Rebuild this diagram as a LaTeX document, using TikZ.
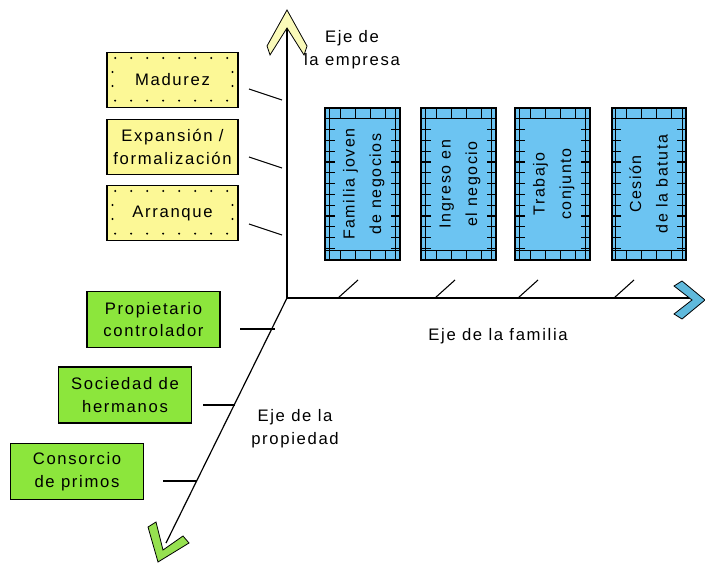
\documentclass[tikz,border=0pt]{standalone}
\usepackage{fontspec}
\setmainfont{Liberation Sans}[LetterSpace=10]
\usepackage{graphicx}
\usepackage{tikz}
\usetikzlibrary{positioning}

\definecolor{amarillo}{RGB}{252,248,150}
\definecolor{azul}{RGB}{108,196,242}
\definecolor{verde}{RGB}{140,230,60}
\definecolor{puntaam}{RGB}{250,250,185}
\definecolor{puntaaz}{RGB}{95,185,220}
\definecolor{puntave}{RGB}{150,225,80}

\newcommand{\vlabel}[1]{\rotatebox{90}{\begin{tabular}{@{}c@{}}#1\end{tabular}}}
\def\ppb{path picture bounding box}

\tikzset{
  texto/.style={font=\fontsize{12.5}{17}\selectfont, align=center},
  etapa/.style={texto, draw, line width=1.1pt, fill=amarillo, minimum width=98pt, minimum height=41pt, inner sep=0pt},
  punteada/.style={path picture={
      \foreach \i in {0,...,7} {
        \fill[black] ([xshift=6pt+\i*12pt, yshift=-4pt]\ppb.north west) circle (0.85pt);
        \fill[black] ([xshift=6pt+\i*12pt, yshift=5pt]\ppb.south west) circle (0.85pt);
      }
      \foreach \j in {1,2} {
        \fill[black] ([xshift=4pt, yshift=-4pt-\j*10.5pt]\ppb.north west) circle (0.85pt);
        \fill[black] ([xshift=-4pt, yshift=-4pt-\j*10.5pt]\ppb.north east) circle (0.85pt);
      }}},
  bloque/.style={font=\fontsize{12}{20}\selectfont, draw=black, line width=1.3pt, fill=azul,
    minimum width=56pt, minimum height=114pt, inner sep=0pt,
    path picture={
      \foreach \k in {1,...,13} {
        \draw[line width=0.8pt] ([yshift=-\k*8.1pt]\ppb.north west) -- ++(7pt,0);
        \draw[line width=0.8pt] ([yshift=-\k*8.1pt]\ppb.north east) -- ++(-7pt,0);
      }
      \foreach \k in {1,...,4} {
        \draw[line width=0.8pt] ([xshift=\k*11.25pt]\ppb.north west) -- ++(0,-8pt);
        \draw[line width=0.8pt] ([xshift=\k*11.25pt]\ppb.south west) -- ++(0,7pt);
      }
      \draw[line width=0.8pt] ([xshift=3pt]\ppb.north west) -- ([xshift=3pt]\ppb.south west);
      \draw[line width=0.8pt] ([xshift=-3pt]\ppb.north east) -- ([xshift=-3pt]\ppb.south east);
      \draw[line width=0.8pt] ([yshift=-8pt]\ppb.north west) -- ([yshift=-8pt]\ppb.north east);
      \draw[line width=0.8pt] ([yshift=7pt]\ppb.south west) -- ([yshift=7pt]\ppb.south east);
    }},
  dueno/.style={texto, draw, line width=1.1pt, fill=verde, minimum width=100pt, minimum height=42pt, inner sep=0pt},
  eje/.style={line width=0.9pt},
  enlace/.style={line width=0.8pt},
  punta/.style={draw=black, line width=0.6pt, line join=miter}
}

\begin{document}
\begin{tikzpicture}[x=0.75pt, y=-0.75pt]
  \useasboundingbox[fill=white] (0,0) rectangle (705,563);

  \coordinate (O) at (287,298);
  \coordinate (arriba) at (287,22);
  \coordinate (derecha) at (690,298);
  \coordinate (abajo) at (166,543);

  \draw[eje] (O) -- (arriba);
  \draw[eje] (O) -- (derecha);
  \draw[eje] (O) -- (abajo);

  \filldraw[punta, fill=puntaam] (287,10) -- (307,46) -- (304,55) -- (287,28) -- (270,55) -- (267,46) -- cycle;
  \filldraw[punta, fill=puntaaz] (705,300) -- (682,281) -- (674,286) -- (692,300) -- (674,314) -- (682,319) -- cycle;
  \filldraw[punta, fill=puntave] (158,562) -- (148,527) -- (156,522) -- (163,550) -- (183,536) -- (189,543) -- cycle;

  \node[texto] (ejeemp) at (352,50) {Eje de\\la empresa};
  \node[texto] (ejefam) at (498,336) {Eje de la familia};
  \node[texto] (ejeprop) at (295,429) {Eje de la\\propiedad};

  \node[etapa, punteada] (mad) at (172.5,80) {Madurez};
  \node[etapa] (exp) at (172.5,147) {Expansión /\\formalización};
  \node[etapa, punteada] (arr) at (172.5,213) {Arranque};

  \coordinate (mad1) at (249,89);  \coordinate (mad2) at (282,100);
  \coordinate (exp1) at (249,157); \coordinate (exp2) at (282,168);
  \coordinate (arr1) at (249,224); \coordinate (arr2) at (282,235);
  \draw[enlace] (mad1) -- (mad2);
  \draw[enlace] (exp1) -- (exp2);
  \draw[enlace] (arr1) -- (arr2);

  \node[bloque] (fam1) at (362.5,184) {\vlabel{Familia joven\\de negocios}};
  \node[bloque] (fam2) at (458.5,184) {\vlabel{Ingreso en\\el negocio}};
  \node[bloque] (fam3) at (552.5,184) {\vlabel{Trabajo\\conjunto}};
  \node[bloque] (fam4) at (649,184) {\vlabel{Cesión\\de la batuta}};

  \foreach \x in {338,435,518,614}
    \draw[enlace] (\x,298) -- ++(20,-18);

  \node[dueno] (prop) at (153.5,319.5) {Propietario\\controlador};
  \node[dueno] (soc) at (125,395) {Sociedad de\\hermanos};
  \node[dueno] (cons) at (77,471.5) {Consorcio\\de primos};

  \coordinate (prop1) at (240,329); \coordinate (prop2) at (275,329);
  \coordinate (soc1) at (203,405);  \coordinate (soc2) at (235,405);
  \coordinate (cons1) at (163,481); \coordinate (cons2) at (197,481);
  \draw[enlace] (prop1) -- (prop2);
  \draw[enlace] (soc1) -- (soc2);
  \draw[enlace] (cons1) -- (cons2);
\end{tikzpicture}
\end{document}
